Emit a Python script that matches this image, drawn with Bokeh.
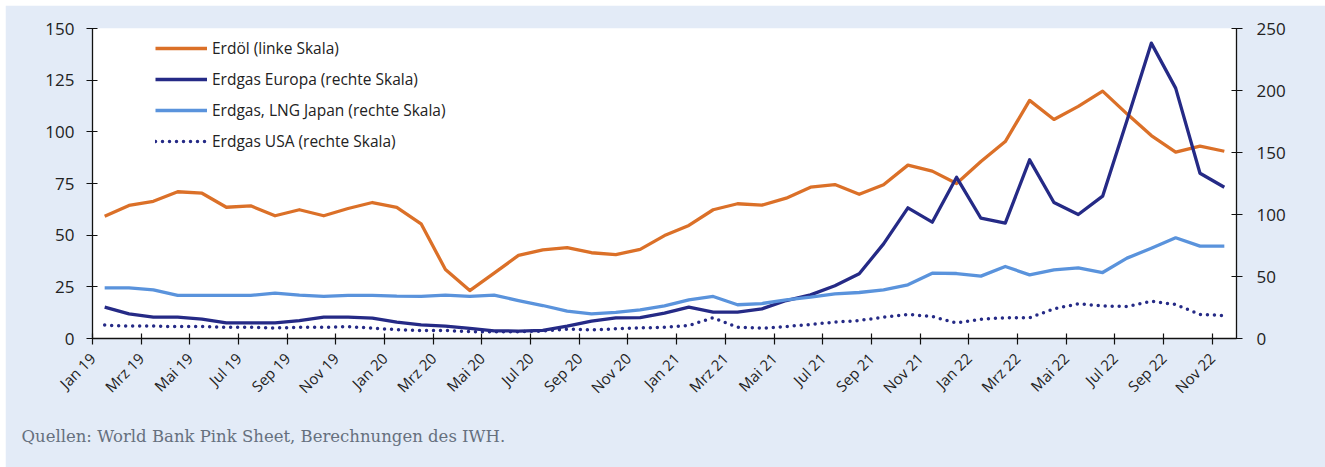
import math
from bokeh.plotting import figure
from bokeh.models import (Range1d, LinearAxis, FixedTicker, Legend, LegendItem, Title, ColumnDataSource, Spacer)
from bokeh.layouts import column, row
from bokeh.embed import file_html
from bokeh.resources import INLINE

# ---------------- data ----------------
years = ["19", "20", "21", "22"]
months = ["Jan", "Feb", "Mrz", "Apr", "Mai", "Jun", "Jul", "Aug", "Sep", "Okt", "Nov", "Dez"]
categories = [f"{m} {y}" for y in years for m in months][:47]  # Jan 19 .. Nov 22

erdoel = [59.2, 64.4, 66.4, 71.0, 70.3, 63.5, 64.2, 59.4, 62.3, 59.4, 62.9, 65.8,
          63.5, 55.5, 33.4, 23.2, 31.6, 40.2, 42.9, 44.0, 41.5, 40.6, 43.1, 49.8,
          54.7, 62.3, 65.2, 64.5, 67.9, 73.2, 74.5, 69.8, 74.4, 83.9, 81.0, 75.0,
          85.6, 95.3, 115.2, 106.0, 112.3, 119.7, 108.7, 98.2, 90.2, 93.1, 90.6]

erdgas_europa = [25.3, 19.9, 17.2, 17.2, 15.6, 12.6, 12.6, 12.6, 14.5, 17.2, 17.2, 16.4,
                 13.2, 11.0, 9.9, 8.1, 6.2, 6.0, 6.5, 9.9, 14.0, 16.7, 16.9, 20.4,
                 25.3, 21.2, 21.2, 23.9, 30.6, 35.2, 42.5, 52.2, 76.3, 105.4, 93.8, 130.0,
                 97.0, 93.0, 144.1, 109.7, 100.0, 114.8, 175.8, 238.2, 201.9, 133.3, 122.0]

erdgas_japan = [40.9, 40.9, 39.2, 34.7, 34.7, 34.7, 34.7, 36.6, 35.0, 33.9, 34.7, 34.7,
                34.1, 34.0, 35.0, 34.0, 35.0, 30.6, 26.6, 22.0, 19.9, 21.0, 23.1, 26.3,
                31.2, 33.9, 27.2, 28.2, 31.2, 33.3, 36.0, 37.1, 39.2, 43.3, 52.7, 52.4,
                50.3, 58.1, 51.3, 55.4, 57.0, 53.2, 64.8, 72.8, 81.2, 74.5, 74.5]

erdgas_usa = [10.8, 10.0, 10.0, 9.6, 9.6, 9.0, 9.0, 8.5, 9.0, 9.0, 9.6, 8.3,
              7.2, 6.5, 6.5, 5.5, 5.5, 5.5, 6.0, 7.5, 7.0, 7.8, 8.5, 9.1,
              10.5, 16.7, 9.1, 8.3, 9.7, 11.3, 13.2, 14.5, 17.2, 19.4, 17.7, 12.6,
              15.6, 16.7, 16.7, 23.9, 28.0, 26.3, 25.8, 30.1, 27.4, 19.4, 18.5]

left_ticks = [0, 25, 50, 75, 100, 125, 150]
right_ticks = [0, 50, 100, 150, 200, 250]
tick_every = 2

legend_labels = ["Erdöl (linke Skala)", "Erdgas Europa (rechte Skala)",
                 "Erdgas, LNG Japan (rechte Skala)", "Erdgas USA (rechte Skala)"]
source_text = "Quellen: World Bank Pink Sheet, Berechnungen des IWH."

# ---------------- styling ----------------
BG = "#E3EBF7"
ORANGE = "#DB7028"
DARK = "#252A86"
LIGHT = "#5A93DC"
FONT = "Open Sans"

n = len(categories)
xs = [i + 0.5 for i in range(n)]
src = ColumnDataSource(dict(x=xs, oil=erdoel, eu=erdgas_europa, jp=erdgas_japan, us=erdgas_usa))

p = figure(width=1320, height=462, output_backend="svg", toolbar_location=None,
           x_range=Range1d(0, n), y_range=Range1d(0, 150),
           min_border_left=87, min_border_right=89, min_border_top=23, min_border_bottom=129)
p.extra_y_ranges = {"right": Range1d(0, 250)}
p.background_fill_color = "white"
p.border_fill_color = BG
p.outline_line_color = None
p.grid.visible = False

r_oil = p.line("x", "oil", source=src, color=ORANGE, line_width=3.3, line_join="round")
r_eu = p.line("x", "eu", source=src, color=DARK, line_width=3.3, line_join="round", y_range_name="right")
r_jp = p.line("x", "jp", source=src, color=LIGHT, line_width=3.3, line_join="round", y_range_name="right")
r_us = p.line("x", "us", source=src, color=DARK, line_width=3.5, line_cap="round",
              line_dash="0 7", y_range_name="right")

def style_axis(ax):
    ax.axis_line_color = "#111111"
    ax.axis_line_width = 1.3
    ax.major_tick_line_color = "#111111"
    ax.major_tick_line_width = 1.2
    ax.minor_tick_line_color = None
    ax.major_tick_in = 5
    ax.major_tick_out = 6
    ax.major_label_text_font = FONT
    ax.major_label_text_color = "#222222"

xa = p.xaxis[0]
xa.ticker = FixedTicker(ticks=list(range(0, n, tick_every)))
xa.major_label_overrides = {i: categories[i] for i in range(0, n, tick_every)}
xa.major_label_orientation = math.pi / 4
xa.major_label_text_font_size = "15px"
xa.major_label_standoff = 11
style_axis(xa)

ya = p.yaxis[0]
ya.ticker = FixedTicker(ticks=left_ticks)
ya.major_label_text_font_size = "17px"
ya.major_label_standoff = 12
style_axis(ya)

ra = LinearAxis(y_range_name="right", ticker=FixedTicker(ticks=right_ticks))
style_axis(ra)
ra.major_label_text_font_size = "17px"
ra.major_label_standoff = 14
p.add_layout(ra, "right")

legend = Legend(items=[LegendItem(label=legend_labels[0], renderers=[r_oil]),
                       LegendItem(label=legend_labels[1], renderers=[r_eu]),
                       LegendItem(label=legend_labels[2], renderers=[r_jp]),
                       LegendItem(label=legend_labels[3], renderers=[r_us])],
                location=(63, 186), orientation="vertical")
legend.glyph_width = 52
legend.glyph_height = 20
legend.label_height = 20
legend.spacing = 9
legend.padding = 0
legend.margin = 0
legend.label_standoff = 5
legend.border_line_alpha = 0
legend.background_fill_alpha = 0
legend.label_text_font = FONT
legend.label_text_font_size = "15.5px"
legend.label_text_color = "#222222"
p.add_layout(legend, "center")

src_title = Title(text=source_text, align="left", offset=-71, standoff=34,
                  text_font="DejaVu Serif", text_font_size="16.5px", text_font_style="normal",
                  text_color="#66707E")
p.add_layout(src_title, "below")

layout = column(Spacer(height=5, width=1320), row(Spacer(width=5, height=462), p))
open("out.html", "w").write(file_html(layout, INLINE))
